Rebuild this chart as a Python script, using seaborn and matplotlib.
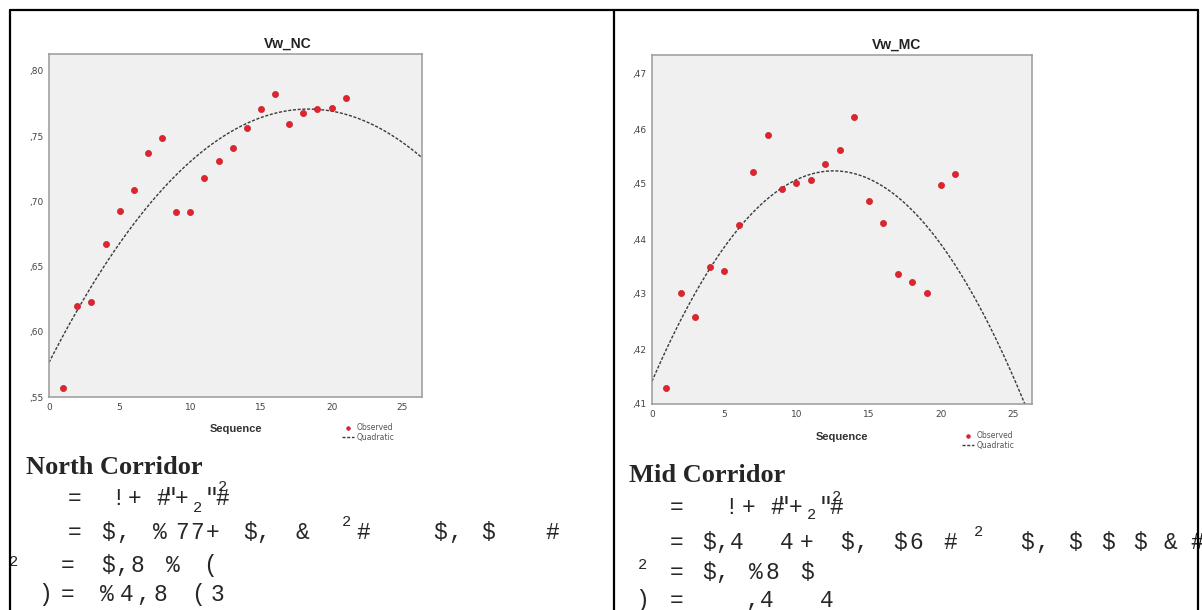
import numpy as np
import pandas as pd
import matplotlib.pyplot as plt
import seaborn as sns
from matplotlib.lines import Line2D

# values
sequence = list(range(1, 22))
vw_nc = [0.557, 0.620, 0.623, 0.667, 0.693, 0.709, 0.737, 0.749, 0.692, 0.692,
         0.718, 0.731, 0.741, 0.756, 0.771, 0.782, 0.759, 0.768, 0.771, 0.772, 0.779]
vw_mc = [0.4130, 0.4301, 0.4258, 0.4350, 0.4342, 0.4425, 0.4521, 0.4590, 0.4491, 0.4502,
         0.4508, 0.4536, 0.4561, 0.4621, 0.4470, 0.4429, 0.4336, 0.4322, 0.4301, 0.4498, 0.4519]

x_ticks = [0, 5, 10, 15, 20, 25]
nc_yticks = [0.55, 0.60, 0.65, 0.70, 0.75, 0.80]
nc_ylabels = [",55", ",60", ",65", ",70", ",75", ",80"]
mc_yticks = [0.41, 0.42, 0.43, 0.44, 0.45, 0.46, 0.47]
mc_ylabels = [",41", ",42", ",43", ",44", ",45", ",46", ",47"]

# garbled equation text under each chart: (glyph, x pixel) per line
nc_eq = [
    [("=", 75), ("!", 118), ("+", 135), ("#", 163), ('"', 170), ("+", 182), ('"', 212), ("#", 222)],
    [("=", 75), ("$", 108), (",", 123), ("%", 160), ("7", 182), ("7", 197), ("+", 213), ("$", 250),
     (",", 263), ("&", 302), ("#", 363), ("$", 440), (",", 455), ("$", 488), ("#", 552)],
    [("=", 68), ("$", 108), (",", 122), ("8", 137), ("%", 173), ("(", 210)],
    [(")", 45), ("=", 68), ("%", 107), ("4", 127), (",", 143), ("8", 160), ("(", 198), ("3", 217)],
]
nc_rows = [498, 532, 565, 594]
# small "2" glyphs: x, y centre
nc_small = [(197, 508), (222, 487), (346, 522), (13, 562)]

mc_eq = [
    [("=", 677), ("!", 731), ("+", 749), ("#", 777), ('"', 784), ("+", 796), ('"', 826), ("#", 836)],
    [("=", 677), ("$", 709), (",", 722), ("4", 737), ("4", 787), ("+", 807), ("$", 847), (",", 861),
     ("$", 900), ("6", 916), ("#", 950), ("$", 1027), (",", 1042), ("$", 1075), ("$", 1108),
     ("$", 1140), ("&", 1170), ("#", 1197)],
    [("=", 677), ("$", 709), (",", 722), ("%", 756), ("8", 772), ("$", 807)],
    [(")", 642), ("=", 677), (",", 752), ("4", 767), ("4", 827)],
]
mc_rows = [507, 542, 572, 600]
mc_small = [(811, 515), (836, 497), (978, 532), (642, 565)]

W, H = 1202, 610
fig = plt.figure(figsize=(W / 100, H / 100), dpi=100)
sns.set_style("white")


def fx(x):
    return x / W


def fy(y):
    return 1 - y / H


def draw_chart(rect, step_px, y, yticks, ylabels, xmax, title, title_x, xlabel_y, leg_xy):
    left, top, right, bottom = rect
    ax = fig.add_axes([fx(left), fy(bottom), (right - left) / W, (bottom - top) / H])
    ax.set_facecolor("#f0f0f0")
    ax.set_xlim(0, xmax)
    ax.set_ylim(yticks[0], yticks[0] + (yticks[1] - yticks[0]) * (bottom - top) / step_px)

    sns.regplot(x=sequence, y=y, order=2, ci=None, scatter=False, truncate=False, ax=ax,
                line_kws=dict(color="#3a3a3a", lw=1.0, ls=(0, (2.2, 1.2))))
    fit_line = ax.lines[-1]
    sns.scatterplot(x=sequence, y=y, ax=ax, color="#e3232c", edgecolor="#b81822",
                    linewidth=0.4, s=20, zorder=3)
    ax.set_xlim(0, xmax)

    ax.set_xticks(x_ticks)
    ax.set_yticks(yticks)
    ax.set_yticklabels(ylabels)
    ax.tick_params(direction="out", length=3, width=0.8, color="#666666",
                   labelsize=6.5, labelcolor="#444444", pad=1)
    for s in ax.spines.values():
        s.set_color("#9a9a9a")
        s.set_linewidth(1.1)
    ax.set_xlabel("")
    ax.set_ylabel("")

    fig.text(fx(title_x), fy(top - 10), title, ha="center", va="center",
             fontsize=10, fontweight="bold", family="Liberation Sans", color="#222222")
    fig.text(fx((left + right) / 2), fy(xlabel_y), "Sequence", ha="center", va="center",
             fontsize=8, fontweight="bold", family="Liberation Sans", color="#333333")

    dots = ax.collections[-1]
    ax.legend([dots, fit_line], ["Observed", "Quadratic"],
              loc="upper left", bbox_to_anchor=(fx(leg_xy[0]), fy(leg_xy[1])),
              bbox_transform=fig.transFigure, frameon=False, fontsize=5.5,
              handlelength=1.6, handletextpad=0.4, labelspacing=0.15,
              borderpad=0, markerscale=0.6, labelcolor="#555555")
    return ax


# rect = left, top, right, bottom (pixels); step_px = pixels per y tick step
draw_chart((49, 54, 422, 397), 65.2, vw_nc, nc_yticks, nc_ylabels, 26.4,
           "Vw_NC", 288, 429, (338, 419))
draw_chart((652, 55, 1032, 404), 55.0, vw_mc, mc_yticks, mc_ylabels, 26.3,
           "Vw_MC", 897, 437, (958, 427))


def put_eq(lines, rows, small, head, head_x, head_y):
    fig.text(fx(head_x), fy(head_y), head, ha="left", va="center", fontsize=19,
             fontweight="bold", family="Liberation Serif")
    for tokens, yc in zip(lines, rows):
        for s, x in tokens:
            fig.text(fx(x), fy(yc + 7), s, ha="center", va="baseline", fontsize=16.5,
                     family="Liberation Mono")
    for x, yc in small:
        fig.text(fx(x), fy(yc), "2", ha="center", va="center",
                 fontsize=11, family="Liberation Mono")


put_eq(nc_eq, nc_rows, nc_small, "North Corridor", 26, 467)
put_eq(mc_eq, mc_rows, mc_small, "Mid Corridor", 629, 475)

# table borders
for xs, ys in [([10, 10], [10, 610]), ([10, 1198], [10, 10]),
               ([614, 614], [10, 610]), ([1198, 1198], [10, 610])]:
    fig.add_artist(Line2D([fx(v) for v in xs], [fy(v) for v in ys],
                          transform=fig.transFigure, color="black", lw=1.6, zorder=10))

fig.savefig("out.png", dpi=100)
